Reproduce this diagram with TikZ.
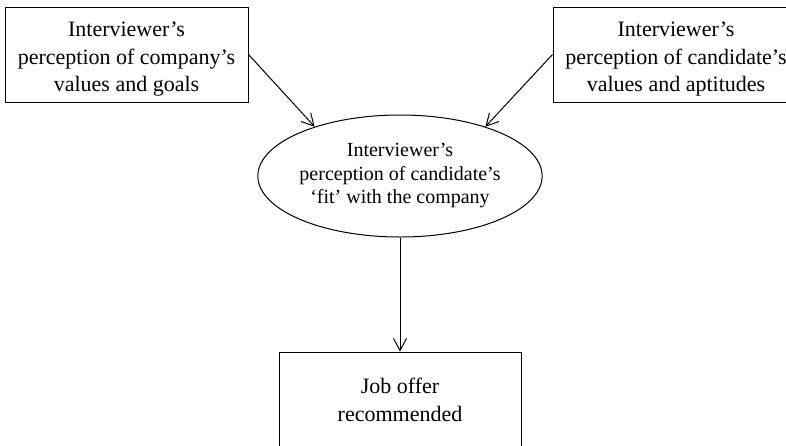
\documentclass[tikz,border=0pt]{standalone}
\usepackage{fontspec}
\setmainfont{Liberation Serif}
\usetikzlibrary{shapes.geometric,arrows.meta}
% a tall strut on the first line sets the text block a little below the centre
\newcommand{\toppad}{\rule{0pt}{24pt}}
\begin{document}
\begin{tikzpicture}[x=1pt,y=-1pt,
  every node/.style={align=center, line width=1pt, inner sep=0pt},
  boxtext/.style={font=\fontsize{22}{27.5}\selectfont},
  rectbox/.style={draw, rectangle, boxtext, minimum width=243pt, minimum height=95pt},
  fitellipse/.style={draw, ellipse, font=\fontsize{20}{23.5}\selectfont, minimum width=242pt, minimum height=122pt},
  link/.style={line width=1pt, -{Straight Barb[length=12pt,width=13pt,line width=1pt]}}]
  \useasboundingbox (0,0) rectangle (786,445);
  \clip (0,0) rectangle (786,445);
  % input boxes
  \node[rectbox] (company) at (126.5,54.5) {\toppad Interviewer's\\perception of company's\\values and goals};
  \node[rectbox, minimum width=246pt] (candidate) at (676,54.5) {\toppad Interviewer's\\perception of candidate's\\values and aptitudes};
  % central judgement
  \node[fitellipse] (fit) at (400,176) {Interviewer's\\perception of candidate's\\`fit' with the company};
  % outcome
  \node[rectbox, minimum width=242pt, minimum height=96pt] (offer) at (400,400) {Job offer\\recommended};
  % connectors
  \draw[link] (company.east) -- (fit.150);
  \draw[link] (candidate.west) -- (fit.30);
  \draw[link] (fit.south) -- (offer.north);
\end{tikzpicture}
\end{document}
